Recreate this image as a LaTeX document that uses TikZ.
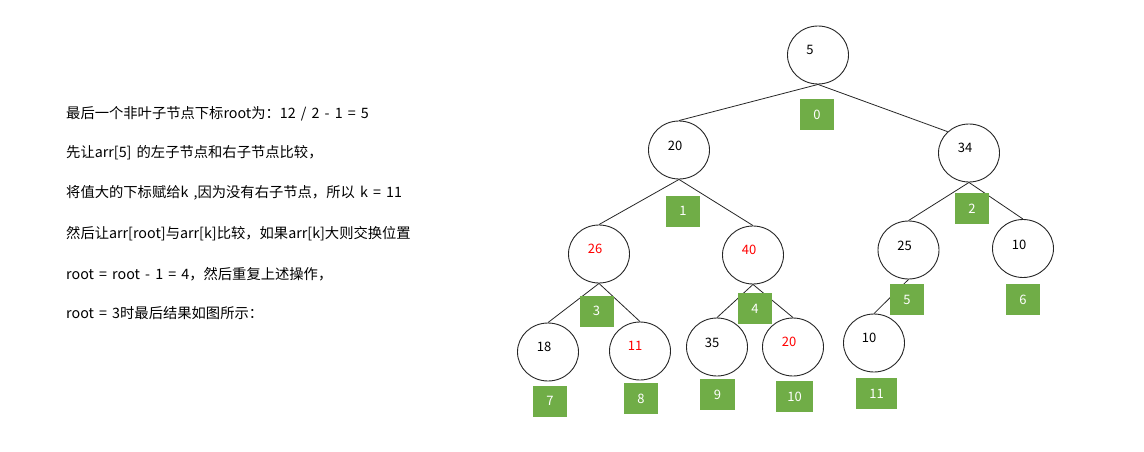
\documentclass[tikz,border=0pt]{standalone}
\usepackage{fontspec}
\setmainfont{Noto Sans CJK SC}
\newfontfamily\descfont[WordSpace=1.6]{Noto Sans CJK SC}
\usetikzlibrary{shapes.geometric}
\definecolor{boxgreen}{HTML}{70AD47}
\definecolor{redtxt}{HTML}{FF0000}
\tikzset{
  heapnode/.style={draw=black!85, line width=0.9pt, ellipse, minimum width=61pt, minimum height=58pt, inner sep=0pt, fill=white},
  idxbox/.style={fill=boxgreen, text=white, minimum width=34pt, minimum height=31pt, inner sep=0pt, font=\fontsize{13}{15}\selectfont},
  edge/.style={draw=black!85, line width=0.8pt},
  desc/.style={anchor=west, inner sep=0pt, font=\descfont\fontsize{14.3}{16}\selectfont},
  val/.style={font=\fontsize{13}{15}\selectfont},
  redval/.style={font=\fontsize{13}{15}\selectfont, text=redtxt}
}
\begin{document}
\begin{tikzpicture}[x=1pt,y=-1pt]
\useasboundingbox (0,0) rectangle (1144,452);
% description text
\node[desc] (t1) at (66,114) {最后一个非叶子节点下标root为：12 / 2 - 1 = 5};
\node[desc] (t2) at (66,153) {先让arr[5] 的左子节点和右子节点比较，};
\node[desc] (t3) at (66,193) {将值大的下标赋给k ,因为没有右子节点，所以 k = 11};
\node[desc] (t4) at (66,234) {然后让arr[root]与arr[k]比较，如果arr[k]大则交换位置};
\node[desc] (t5) at (66,274) {root = root - 1 = 4，然后重复上述操作，};
\node[desc] (t6) at (66,313) {root = 3时最后结果如图所示：};
% tree nodes
\node[heapnode, label={[val,xshift=-8pt,yshift=5pt]center:5}] (n0) at (818,55) {};
\node[heapnode, label={[val,xshift=-4pt,yshift=4pt]center:20}] (n1) at (679,150) {};
\node[heapnode, label={[val,xshift=-4pt,yshift=5pt]center:34}] (n2) at (969,153) {};
\node[heapnode, label={[redval,xshift=-4pt,yshift=5pt]center:26}] (n3) at (599,254) {};
\node[heapnode, label={[redval,xshift=-4pt,yshift=5pt]center:40}] (n4) at (753,255) {};
\node[heapnode, label={[val,xshift=-4pt,yshift=4pt]center:25}] (n5) at (908.5,250) {};
\node[heapnode, label={[val,xshift=-4pt,yshift=4pt]center:10}] (n6) at (1023,248.5) {};
\node[heapnode, label={[val,xshift=-4pt,yshift=5pt]center:18}] (n7) at (548,352) {};
\node[heapnode, label={[redval,xshift=-5pt,yshift=5pt]center:11}] (n8) at (640,351) {};
\node[heapnode, label={[val,xshift=-5pt,yshift=4pt]center:35}] (n9) at (717,347) {};
\node[heapnode, label={[redval,xshift=-4pt,yshift=5pt]center:20}] (n10) at (793,347) {};
\node[heapnode, label={[val,xshift=-5pt,yshift=5pt]center:10}] (n11) at (874,343) {};
% edges
\draw[edge] (n0.south) -- (n1.north);
\draw[edge] (n0.south) -- (n2.135);
\draw[edge] (n1.south) -- (n3.north);
\draw[edge] (n1.south) -- (n4.north);
\draw[edge] (n2.south) -- (n5.north);
\draw[edge] (n2.south) -- (n6.north);
\draw[edge] (n3.south) -- (n7.north);
\draw[edge] (n3.south) -- (n8.north);
\draw[edge] (n4.south) -- (n9.north);
\draw[edge] (n4.south) -- (n10.north);
\draw[edge] (n5.south) -- (n11.north);
% index boxes
\node[idxbox] (b0) at (817,114.5) {0};
\node[idxbox] (b1) at (683,211) {1};
\node[idxbox] (b2) at (972,208.5) {2};
\node[idxbox] (b3) at (596.5,311) {3};
\node[idxbox] (b4) at (755,308.5) {4};
\node[idxbox] (b5) at (907,299.5) {5};
\node[idxbox] (b6) at (1023,299.5) {6};
\node[idxbox] (b7) at (550,401) {7};
\node[idxbox] (b8) at (641,398.5) {8};
\node[idxbox,minimum width=35pt] (b9) at (717.5,394.5) {9};
\node[idxbox,minimum width=37pt] (b10) at (794.5,396.5) {10};
\node[idxbox,minimum width=41pt] (b11) at (876.5,393.5) {11};
\end{tikzpicture}
\end{document}
